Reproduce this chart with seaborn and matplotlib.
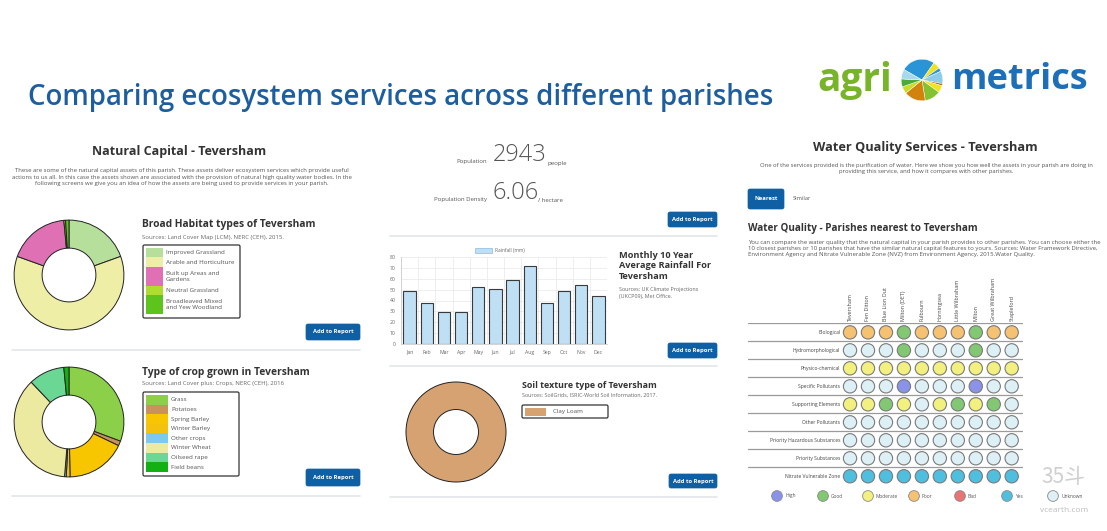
import numpy as np
import pandas as pd
import seaborn as sns
import matplotlib.pyplot as plt
from matplotlib.patches import FancyBboxPatch, Rectangle

W, H = 1107, 531

# --- data ---
habitat_labels = ["Improved Grassland", "Arable and Horticulture", "Built up Areas and\nGardens",
                  "Neutral Grassland", "Broadleaved Mixed\nand Yew Woodland"]
habitat_values = [19.5, 61.0, 18.0, 0.5, 1.0]
habitat_colors = ["#b6df9c", "#eeeea6", "#e070b4", "#b0dc30", "#5cc41c"]

crop_labels = ["Grass", "Potatoes", "Spring Barley", "Winter Barley", "Other crops",
               "Winter Wheat", "Oilseed rape", "Field beans"]
crop_values = [30.5, 1.4, 17.5, 1.1, 0.5, 36.4, 10.5, 1.5]
crop_colors = ["#8ccf48", "#c8925a", "#f7c600", "#f4c20e", "#7ec8ee", "#eceaa0", "#6ad894", "#12b012"]

soil_labels = ["Clay Loam"]
soil_values = [100]
soil_colors = ["#d6a272"]

months = ["Jan", "Feb", "Mar", "Apr", "May", "Jun", "Jul", "Aug", "Sep", "Oct", "Nov", "Dec"]
rainfall = [49, 38, 29, 29, 52, 51, 59, 72, 38, 49, 54, 44]

population = "2943"
density = "6.06"

parishes = ["Teversham", "Fen Ditton", "Blue Lion Out", "Milton (DET)", "Fulbourn", "Horningsea",
            "Little Wilbraham", "Milton", "Great Wilbraham", "Stapleford"]
elements = ["Biological", "Hydromorphological", "Physico-chemical", "Specific Pollutants",
            "Supporting Elements", "Other Pollutants", "Priority Hazardous Substances",
            "Priority Substances", "Nitrate Vulnerable Zone"]
status = [
    ["Poor", "Poor", "Poor", "Good", "Poor", "Poor", "Poor", "Good", "Poor", "Poor"],
    ["Unknown", "Unknown", "Unknown", "Good", "Unknown", "Unknown", "Unknown", "Good", "Unknown", "Unknown"],
    ["Moderate"] * 10,
    ["Unknown", "Unknown", "Unknown", "High", "Unknown", "Unknown", "Unknown", "High", "Unknown", "Unknown"],
    ["Moderate", "Moderate", "Good", "Moderate", "Unknown", "Moderate", "Good", "Moderate", "Good", "Unknown"],
    ["Unknown"] * 10,
    ["Unknown"] * 10,
    ["Unknown"] * 10,
    ["Yes"] * 10,
]
status_names = ["High", "Good", "Moderate", "Poor", "Bad", "Yes", "Unknown"]
status_colors = ["#8a92ea", "#82c872", "#f2f07e", "#f5c272", "#e87474", "#4fbfe0", "#dcf0f6"]

logo_sizes = [95, 20, 10, 35, 6, 20, 45, 60, 20, 22, 27]
logo_colors = ["#2a95d6", "#f2e21a", "#2a95d6", "#8ccbea", "#b86a10", "#f0e41c",
               "#84c232", "#d4820e", "#c8dc28", "#4aaa3a", "#a8d8ee"]

sns.set_theme(style="white")
plt.rcParams['font.family'] = ['Open Sans', 'DejaVu Sans', 'Noto Sans CJK SC']

fig = plt.figure(figsize=(W / 100, H / 100), dpi=100)
fig.patch.set_facecolor("white")


def box(x0, y0, x1, y1):
    return [x0 / W, 1 - y1 / H, (x1 - x0) / W, (y1 - y0) / H]


cv = fig.add_axes([0, 0, 1, 1])
cv.set_xlim(0, W)
cv.set_ylim(H, 0)
cv.axis("off")

TXT = "#333333"
SMALL = "#666666"
BLUE = "#0f5fa4"


def t(x, y, s, size=4, **kw):
    kw.setdefault("color", TXT)
    kw.setdefault("va", "center")
    cv.text(x, y, s, fontsize=size, **kw)


def button(x0, y0, x1, y1, label="Add to Report"):
    cv.add_patch(FancyBboxPatch((x0, y0), x1 - x0, y1 - y0, boxstyle="round,pad=0,rounding_size=2",
                                fc=BLUE, ec=BLUE, lw=0.5))
    t((x0 + x1) / 2, (y0 + y1) / 2, label, size=4.2, color="white", ha="center", fontweight="bold")


def sep(x0, x1, y):
    cv.plot([x0, x1], [y, y], color="#e2e6ea", lw=1.2)


def donut(rect, values, colors, width):
    ax = fig.add_axes(box(*rect))
    ax.pie(values, colors=colors, startangle=90, counterclock=False,
           wedgeprops=dict(width=width, edgecolor="#222222", linewidth=0.7))
    ax.set_xlim(-1.02, 1.02)
    ax.set_ylim(-1.02, 1.02)
    ax.set_aspect("equal")
    ax.axis("off")
    return ax


def legend_box(x0, y0, x1, y1, labels, colors, row_h, patch_w, text_x):
    cv.add_patch(FancyBboxPatch((x0, y0), x1 - x0, y1 - y0, boxstyle="round,pad=0,rounding_size=1.5",
                                fc="white", ec="#333333", lw=0.9))
    y = y0 + 3
    for lab, c in zip(labels, colors):
        n = lab.count("\n") + 1
        cv.add_patch(Rectangle((x0 + 3, y), patch_w, row_h * n, fc=c, ec="none"))
        t(text_x, y + row_h * n / 2, lab, size=4.5, color="#555555", linespacing=1.3)
        y += row_h * n


# --- header ---
t(28, 97, "Comparing ecosystem services across different parishes", size=19.9,
  color="#1c5e9f", fontweight="semibold")
t(817, 80, "agri", size=28, color="#78b428", fontweight="bold")
t(951, 80, "metrics", size=26, color="#1d70b8", fontweight="bold")
lg = fig.add_axes(box(896, 54, 948, 106))
lg.pie(logo_sizes, colors=logo_colors, startangle=150, counterclock=False,
       wedgeprops=dict(edgecolor="white", linewidth=0.3))
lg.set_aspect("equal")
lg.axis("off")

# --- left panel ---
t(179, 152, "Natural Capital - Teversham", size=9, fontweight="bold", ha="center")
para = ("These are some of the natural capital assets of this parish. These assets deliver ecosystem services which provide useful\n"
        "actions to us all. In this case the assets shown are associated with the provision of natural high quality water bodies. In the\n"
        "following screens we give you an idea of how the assets are being used to provide services in your parish.")
t(182, 177, para, size=4.3, ha="center", color="#555555", linespacing=1.3)

donut((13, 219, 125, 331), habitat_values, habitat_colors, 0.51)
t(142, 225, "Broad Habitat types of Teversham", size=7.4, fontweight="bold")
t(142, 238, "Sources: Land Cover Map (LCM), NERC (CEH), 2015.", size=4.3, color=SMALL)
legend_box(143, 245, 240, 318, habitat_labels, habitat_colors, 9.4, 17, 166)
button(306, 324, 360, 340)
sep(12, 360, 350)

donut((13, 366, 125, 478), crop_values, crop_colors, 0.51)
t(142, 372, "Type of crop grown in Teversham", size=7.4, fontweight="bold")
t(142, 384, "Sources: Land Cover plus: Crops, NERC (CEH), 2016", size=4.3, color=SMALL)
legend_box(143, 392, 239, 476, crop_labels, crop_colors, 9.6, 22, 171)
button(306, 469, 360, 486)
sep(12, 360, 496)

# --- middle panel ---
t(487, 162, "Population", size=4.3, ha="right", color="#555555")
t(493, 155, population, size=17, color="#555555", fontweight="light")
t(547, 163, "people", size=4.3, color="#555555")
t(487, 200, "Population Density", size=4.3, ha="right", color="#555555")
t(493, 193, density, size=17, color="#555555", fontweight="light")
t(538, 200, "/ hectare", size=4.3, color="#555555")
button(668, 212, 717, 227)
sep(390, 717, 236)

ax_bar = fig.add_axes(box(401, 257, 607, 344))
rain_df = pd.DataFrame({"month": months, "rain": rainfall})
sns.barplot(data=rain_df, x="month", y="rain", color="#bfe0f4", edgecolor="#3a3a3a",
            linewidth=0.8, width=0.72, saturation=1, ax=ax_bar)
ax_bar.set_ylim(0, 80)
ax_bar.set_xlim(-0.5, 11.5)
ax_bar.set_yticks(range(0, 81, 10))
ax_bar.set_xticks(np.arange(-0.5, 12, 1), minor=True)
ax_bar.grid(True, which="major", axis="y", color="#ebebeb", lw=0.6)
ax_bar.grid(True, which="minor", axis="x", color="#ebebeb", lw=0.6)
ax_bar.set_axisbelow(True)
ax_bar.set_xlabel("")
ax_bar.set_ylabel("")
ax_bar.tick_params(labelsize=3.7, labelcolor="#666666", length=2, width=0.5, color="#cccccc", pad=2)
ax_bar.tick_params(which="minor", length=0)
for s in ["top", "right"]:
    ax_bar.spines[s].set_visible(False)
for s in ["left", "bottom"]:
    ax_bar.spines[s].set_color("#cccccc")
    ax_bar.spines[s].set_linewidth(0.6)
cv.add_patch(Rectangle((475, 248), 17, 5, fc="#bfe0f4", ec="#8fb8d8", lw=0.5))
t(495, 250.5, "Rainfall (mm)", size=3.5, color="#666666")

t(619, 266, "Monthly 10 Year\nAverage Rainfall For\nTeversham", size=6.6, fontweight="bold", linespacing=1.25)
t(619, 293, "Sources: UK Climate Projections\n(UKCP09), Met Office.", size=3.9, color=SMALL, linespacing=1.4)
button(668, 343, 717, 358)
sep(390, 717, 366)

donut((405, 381, 507, 483), soil_values, soil_colors, 0.55)
t(522, 385, "Soil texture type of Teversham", size=6.4, fontweight="bold")
t(522, 395, "Sources: SoilGrids, ISRIC-World Soil Information, 2017.", size=3.9, color=SMALL)
legend_box(522, 405, 608, 418, soil_labels, soil_colors, 7.5, 21, 553)
button(669, 474, 717, 488)
sep(390, 717, 497)

# --- right panel ---
t(925, 147, "Water Quality Services - Teversham", size=9.2, fontweight="bold", ha="center")
t(926, 168.5, "One of the services provided is the purification of water. Here we show you how well the assets in your parish are doing in\n"
              "providing this service, and how it compares with other parishes.",
  size=4.25, ha="center", color="#555555", linespacing=1.3)
button(748, 189, 784, 209, label="Nearest")
t(793, 199, "Similar", size=4.1, color="#555555")
t(748, 228, "Water Quality - Parishes nearest to Teversham", size=7.1, fontweight="bold")
t(748, 248.5, "You can compare the water quality that the natural capital in your parish provides to other parishes. You can choose either the\n"
              "10 closest parishes or 10 parishes that have the similar natural capital features to yours. Sources: Water Framework Directive,\n"
              "Environment Agency and Nitrate Vulnerable Zone (NVZ) from Environment Agency, 2015.Water Quality.",
  size=4.3, color="#555555", linespacing=1.3)

ax_m = fig.add_axes(box(748, 323, 1023, 484))
rows = []
for j, el in enumerate(elements):
    for i, p in enumerate(parishes):
        rows.append({"col": i, "row": j, "status": status[j][i]})
mdf = pd.DataFrame(rows)
sns.scatterplot(data=mdf, x="col", y="row", hue="status", hue_order=status_names,
                palette=dict(zip(status_names, status_colors)), s=92, edgecolor="#7a7a7a",
                linewidth=0.8, legend=False, ax=ax_m, zorder=3)
ax_m.set_xlim(-5.68, 9.63)
ax_m.set_ylim(8.43, -0.52)
ax_m.axis("off")
for j in range(len(elements) + 1):
    ax_m.axhline(j - 0.5, color="#9a9a9a", lw=0.9, zorder=1)
for j, el in enumerate(elements):
    ax_m.text(-0.55, j, el, fontsize=3.6, color="#444444", ha="right", va="center")
for i, p in enumerate(parishes):
    ax_m.text(i, -0.62, p, fontsize=3.9, color="#444444", rotation=90, ha="center", va="bottom")

leg_x = [777, 823, 868, 914, 960, 1007, 1053]
cv.scatter(leg_x, [496] * len(leg_x), s=60, c=status_colors, edgecolors="#8a8a8a", linewidths=0.6, zorder=3)
for x, name in zip(leg_x, status_names):
    t(x + 8, 496, name, size=3.5, color="#555555")

# watermark
t(1063, 477, "35斗", size=15, ha="center", color="#cfcfcf",
  family=['Noto Sans CJK SC', 'DejaVu Sans'])
t(1064, 511, "vcearth.com", size=6, ha="center", color="#bdbdbd")

fig.savefig("out.png", dpi=100, facecolor="white")
